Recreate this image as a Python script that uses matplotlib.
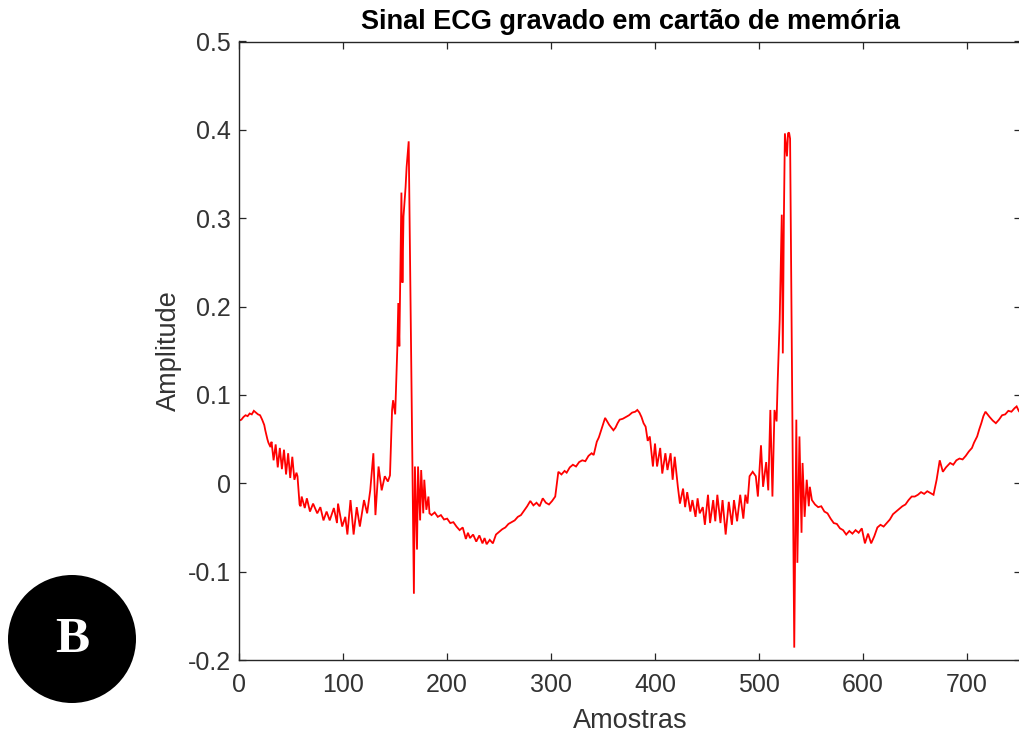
import matplotlib
matplotlib.use("Agg")
import matplotlib.pyplot as plt
from matplotlib.patches import Ellipse
import numpy as np

plt.rcParams['font.family'] = ['Liberation Sans', 'DejaVu Sans']
plt.rcParams['axes.unicode_minus'] = False

# ---- data (sample index, amplitude) ----
samples_a = [0, 2, 4, 6, 8, 10, 12, 14, 16, 18, 20, 22, 24, 25, 27, 28, 30]
values_a = [0.071, 0.072, 0.075, 0.077, 0.076, 0.079, 0.078, 0.082, 0.080, 0.078,
            0.077, 0.072, 0.066, 0.060, 0.050, 0.046, 0.041]

samples_b = [31, 33, 35, 37, 39, 41, 43, 45, 47, 49, 51, 53, 55, 56]
values_b = [0.047, 0.026, 0.044, 0.018, 0.040, 0.016, 0.038, 0.010, 0.034, 0.006,
            0.030, 0.004, 0.012, 0.008]

samples_c = [58, 59, 60, 63, 65, 68, 71, 75, 78, 81, 84, 87, 91, 94, 95, 99, 102,
             104, 107, 110, 113, 116, 120, 123, 126, 129, 131, 134, 137, 140, 143, 145]
values_c = [-0.024, -0.026, -0.015, -0.028, -0.017, -0.032, -0.023, -0.034, -0.027,
            -0.042, -0.032, -0.042, -0.028, -0.045, -0.023, -0.049, -0.038, -0.058,
            -0.019, -0.058, -0.027, -0.049, -0.019, -0.034, -0.008, 0.034, -0.036,
            0.019, -0.008, 0.008, 0.002, 0.009]

samples_qrs1 = [147, 148, 150, 152, 153, 154, 156, 157, 158, 160, 161, 163, 168, 169,
                171, 172, 174, 175, 177, 178, 180, 182, 183, 185]
values_qrs1 = [0.083, 0.094, 0.078, 0.151, 0.204, 0.155, 0.329, 0.227, 0.302, 0.335,
               0.358, 0.387, -0.125, 0.019, -0.075, 0.019, -0.042, 0.015, -0.034,
               0.004, -0.030, -0.015, -0.034, -0.036]

samples_e = [188, 191, 194, 197, 200, 203, 206, 209, 212, 215, 218, 220, 222, 225,
             228, 231, 234, 236, 238, 241, 244, 247, 250, 253, 256, 259, 262, 265,
             268, 271, 274, 277, 280, 283, 286, 289, 292, 295, 298, 301, 304, 307]
values_e = [-0.033, -0.038, -0.036, -0.041, -0.040, -0.045, -0.044, -0.049, -0.053,
            -0.050, -0.063, -0.056, -0.062, -0.058, -0.066, -0.059, -0.068, -0.062,
            -0.069, -0.064, -0.068, -0.058, -0.055, -0.052, -0.050, -0.046, -0.044,
            -0.042, -0.038, -0.036, -0.031, -0.026, -0.020, -0.025, -0.022, -0.026,
            -0.017, -0.022, -0.024, -0.020, -0.015, 0.013]

samples_t = [310, 313, 315, 318, 321, 324, 327, 330, 333, 336, 339, 341, 344, 346,
             349, 352, 354, 356, 358, 360, 362, 364, 366, 369, 372, 375, 378, 381,
             383, 385, 387, 389, 391, 393]
values_t = [0.010, 0.014, 0.012, 0.018, 0.021, 0.019, 0.024, 0.026, 0.025, 0.031,
            0.034, 0.032, 0.047, 0.052, 0.063, 0.074, 0.070, 0.066, 0.063, 0.060,
            0.063, 0.068, 0.072, 0.073, 0.075, 0.077, 0.080, 0.081, 0.083, 0.080,
            0.075, 0.068, 0.064, 0.048]

samples_g = [395, 398, 400, 402, 405, 407, 410, 412, 415, 417, 419, 422, 424, 427,
             429, 431, 434, 436, 439, 441, 443, 446, 448, 451, 453, 456, 458, 460,
             463, 465, 468, 471, 474, 476, 479, 482, 485, 487, 489, 491, 494, 497,
             499, 502, 504, 507, 509, 511, 513, 515, 517]
values_g = [0.053, 0.019, 0.045, 0.019, 0.040, 0.011, 0.034, 0.015, 0.034, 0.004,
            0.030, -0.004, -0.023, -0.006, -0.027, -0.010, -0.032, -0.019, -0.038,
            -0.017, -0.034, -0.027, -0.047, -0.013, -0.045, -0.019, -0.043, -0.013,
            -0.045, -0.019, -0.058, -0.021, -0.047, -0.019, -0.043, -0.013, -0.040,
            -0.013, -0.023, 0.008, 0.013, 0.008, -0.015, 0.043, -0.004, 0.024,
            -0.008, 0.083, -0.015, 0.083, 0.070]

samples_qrs2 = [518, 520, 522, 523, 524, 525, 527, 528, 529, 530, 534, 536, 537, 539,
                541, 542, 544, 546, 548, 549, 551, 554]
values_qrs2 = [0.113, 0.185, 0.304, 0.147, 0.298, 0.396, 0.370, 0.396, 0.397, 0.390,
               -0.186, 0.072, -0.090, 0.053, -0.056, 0.023, -0.038, 0.004, -0.026,
               -0.004, -0.019, -0.024]

samples_h = [557, 560, 563, 566, 569, 572, 575, 578, 581, 584, 587, 590, 593, 596,
             599, 602, 605, 608, 611, 614, 617, 620, 623, 626, 629, 632, 635, 638,
             641, 644, 647, 650, 653, 656, 659, 662, 665, 668, 671, 674, 677, 680,
             684, 687, 690, 693, 696, 699, 702, 705, 707, 710, 712, 714, 716, 718,
             720, 722, 725, 728, 731, 734, 737, 740, 743, 746, 748, 750, 752]
values_h = [-0.027, -0.026, -0.032, -0.034, -0.040, -0.045, -0.046, -0.051, -0.053,
            -0.058, -0.054, -0.057, -0.053, -0.056, -0.051, -0.068, -0.057, -0.068,
            -0.060, -0.050, -0.047, -0.049, -0.045, -0.041, -0.035, -0.032, -0.029,
            -0.026, -0.024, -0.019, -0.015, -0.015, -0.013, -0.010, -0.012, -0.009,
            -0.011, -0.013, 0.004, 0.026, 0.013, 0.018, 0.023, 0.021, 0.026, 0.028,
            0.027, 0.031, 0.036, 0.040, 0.046, 0.053, 0.061, 0.068, 0.076, 0.081,
            0.078, 0.075, 0.071, 0.068, 0.072, 0.077, 0.078, 0.082, 0.081, 0.085,
            0.087, 0.082, 0.079]

x_ticks = [0, 100, 200, 300, 400, 500, 600, 700]
y_ticks = [-0.2, -0.1, 0, 0.1, 0.2, 0.3, 0.4, 0.5]
y_tick_labels = ['-0.2', '-0.1', '0', '0.1', '0.2', '0.3', '0.4', '0.5']

title_text = 'Sinal ECG gravado em cartão de memória'
x_label = 'Amostras'
y_label = 'Amplitude'
panel_letter = 'B'

# ---- assemble ----
samples = (samples_a + samples_b + samples_c + samples_qrs1 + samples_e + samples_t
           + samples_g + samples_qrs2 + samples_h)
values = (values_a + values_b + values_c + values_qrs1 + values_e + values_t
          + values_g + values_qrs2 + values_h)

W, H = 1019, 738
fig = plt.figure(figsize=(W / 100, H / 100), dpi=100)
fig.patch.set_facecolor('white')

ax_left, ax_right, ax_top, ax_bottom = 239.3, 1020.8, 41.5, 660.0
ax = fig.add_axes([ax_left / W, 1 - ax_bottom / H,
                   (ax_right - ax_left) / W, (ax_bottom - ax_top) / H])

ax.plot(samples, values, color='#ff0000', linewidth=1.3, solid_joinstyle='miter')

ax.set_xlim(0, 752)
ax.set_ylim(-0.2, 0.5)
ax.set_xticks(x_ticks)
ax.set_yticks(y_ticks)
ax.set_yticklabels(y_tick_labels)

axcol = '#262626'
for s in ax.spines.values():
    s.set_color(axcol)
    s.set_linewidth(1.0)
ax.tick_params(direction='in', length=5, width=0.9, color=axcol,
               labelcolor='#333333', labelsize=18, top=True, right=True)
ax.tick_params(axis='x', pad=9)
ax.tick_params(axis='y', pad=6)

ax.set_title(title_text, fontsize=19.5, fontweight='bold', color='#000000', pad=9)
ax.set_xlabel(x_label, fontsize=19.5, color='#333333', labelpad=8)
ax.set_ylabel(y_label, fontsize=19.5, color='#333333', labelpad=4)

# panel badge
cx, cy, r = 72, 639, 64
fig.add_artist(Ellipse((cx / W, 1 - cy / H), 2 * r / W, 2 * r / H,
                       transform=fig.transFigure, facecolor='black',
                       edgecolor='none'))
fig.text(cx / W, 1 - (cy + 1) / H, panel_letter, color='white', fontsize=37,
         fontweight='bold', family=['Liberation Serif', 'DejaVu Serif'],
         ha='center', va='center')

fig.savefig('out.png', dpi=100)
